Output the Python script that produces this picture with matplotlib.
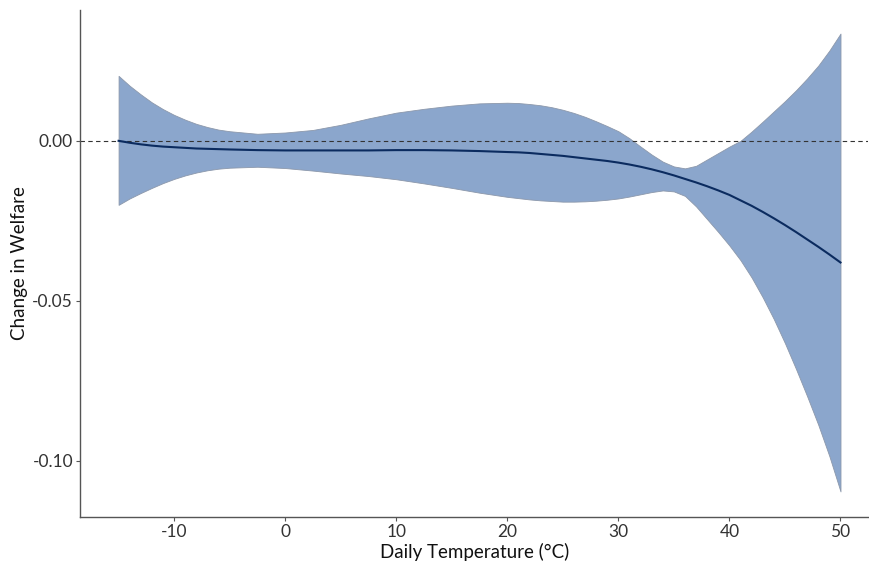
import numpy as np
import matplotlib.pyplot as plt

plt.rcParams["font.family"] = ["Lato", "DejaVu Sans"]

# Values
temps = [-15, -14, -13, -12, -11, -10, -9, -8, -7, -6, -5,
         -2.5, 0, 2.5, 5, 7.5, 10, 12.5, 15, 17.5, 20,
         21, 22, 23, 24, 25, 26, 27, 28, 29, 30,
         31, 32, 33, 34, 35, 36, 37, 38, 39, 40,
         41, 42, 43, 44, 45, 46, 47, 48, 49, 50]
estimate = [0.0, -0.0006, -0.0011, -0.0015, -0.0018, -0.002, -0.0022,
            -0.0024, -0.0025, -0.0026, -0.0027,
            -0.0029, -0.003, -0.003, -0.003, -0.003, -0.0029, -0.0029,
            -0.003, -0.0032, -0.0035,
            -0.0036, -0.0038, -0.0041, -0.0044, -0.0047, -0.0051, -0.0055,
            -0.0059, -0.0063, -0.0068,
            -0.0074, -0.0081, -0.0089, -0.0098, -0.0108, -0.0119, -0.013,
            -0.0142, -0.0155, -0.0169,
            -0.0186, -0.0203, -0.0222, -0.0242, -0.0263, -0.0285, -0.0308,
            -0.0331, -0.0355, -0.038]
upper = [0.0203, 0.0172, 0.0145, 0.012, 0.0099, 0.0081, 0.0066, 0.0053,
         0.0043, 0.0035, 0.003,
         0.0022, 0.0026, 0.0034, 0.005, 0.007, 0.0088, 0.010, 0.011, 0.0117,
         0.0119,
         0.0118, 0.0115, 0.0111, 0.0105, 0.0097, 0.0087, 0.0075, 0.0061,
         0.0046, 0.003,
         0.0008, -0.0018, -0.0043, -0.0065, -0.008, -0.0086, -0.0078,
         -0.0058, -0.0038, -0.0018,
         0.0, 0.0029, 0.006, 0.0092, 0.0124, 0.0158, 0.0195, 0.0235, 0.0282,
         0.0335]
lower = [-0.020, -0.018, -0.0163, -0.0147, -0.0132, -0.0119, -0.0108,
         -0.0099, -0.0092, -0.0087, -0.0084,
         -0.0081, -0.0085, -0.0093, -0.0102, -0.011, -0.012, -0.0133,
         -0.0147, -0.0162, -0.0175,
         -0.0179, -0.0183, -0.0186, -0.0188, -0.019, -0.019, -0.0189,
         -0.0187, -0.0184, -0.018,
         -0.0174, -0.0167, -0.016, -0.0155, -0.0158, -0.0172, -0.0205,
         -0.0245, -0.0285, -0.0327,
         -0.0373, -0.0427, -0.0489, -0.0557, -0.0632, -0.0713, -0.0798,
         -0.0887, -0.0985, -0.1095]

x_ticks = [-10, 0, 10, 20, 30, 40, 50]
y_ticks = [-0.10, -0.05, 0.00]

fig = plt.figure(figsize=(8.7, 5.61), dpi=100)
ax = fig.add_axes([0.092, 0.0784, 0.906, 0.904])

ax.fill_between(temps, lower, upper, facecolor="#8ba6cc",
                edgecolor="#8c98ab", linewidth=0.6, zorder=1)
ax.axhline(0, color="#333333", linewidth=0.8, linestyle=(0, (4, 3)), zorder=2)
ax.plot(temps, estimate, color="#0b2b5f", linewidth=1.5, zorder=3)

ax.set_xlim(-18.47, 52.5)
ax.set_ylim(-0.1175, 0.0409)
ax.set_xticks(x_ticks)
ax.set_xticklabels([str(t) for t in x_ticks])
ax.set_yticks(y_ticks)
ax.set_yticklabels([f"{t:.2f}" for t in y_ticks])

for side in ["top", "right"]:
    ax.spines[side].set_visible(False)
for side in ["left", "bottom"]:
    ax.spines[side].set_color("#555555")
    ax.spines[side].set_linewidth(1.0)

ax.tick_params(axis="both", colors="#555555", length=3, width=0.8,
               labelsize=12.5, labelcolor="#333333", pad=2)
ax.set_xlabel("Daily Temperature (°C)", fontsize=13.5, color="#111111",
              labelpad=2)
ax.set_ylabel("Change in Welfare", fontsize=13.5, color="#111111",
              labelpad=3)

fig.savefig("out.png", dpi=100)
